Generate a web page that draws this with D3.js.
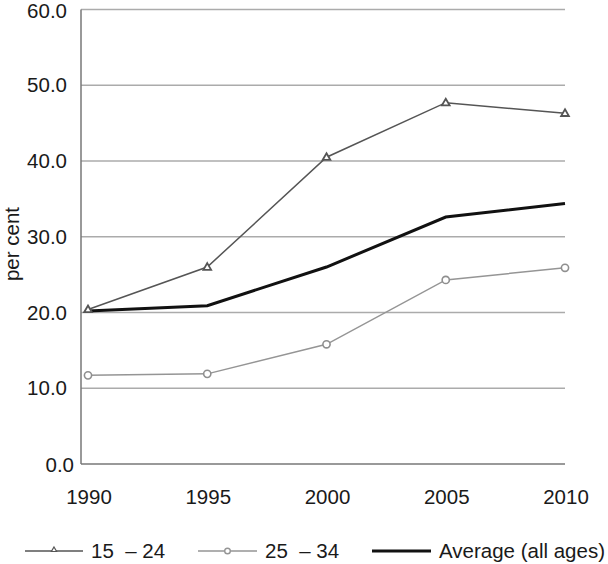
<!DOCTYPE html>
<html>
<head>
<meta charset="utf-8">
<script src="https://cdn.jsdelivr.net/npm/d3@7"></script>
<style>
  body { margin: 0; background: #fff; }
  text { font-family: "Liberation Sans", Arial, sans-serif; fill: #1a1a1a; }
</style>
</head>
<body>
<div id="chart"></div>
<script>
const years = [1990, 1995, 2000, 2005, 2010];
const youth = [20.4, 26.0, 40.5, 47.7, 46.3];
const young = [11.7, 11.9, 15.8, 24.3, 25.9];
const average = [20.2, 20.9, 26.0, 32.6, 34.4];
const yTicks = [0, 10, 20, 30, 40, 50, 60];
const legendLabels = ["15  \u2013 24", "25  \u2013 34", "Average (all ages)"];

const width = 608, height = 564;
const axisLeft = 81;
const fontSize = 20.5;

const x = d3.scaleLinear().domain([1990, 2010]).range([88, 565]);
const y = d3.scaleLinear().domain([0, 60]).range([464, 9.5]);

const svg = d3.select("#chart").append("svg")
  .attr("width", width)
  .attr("height", height);

// gridlines
svg.append("g")
  .selectAll("line")
  .data(yTicks.filter((d) => d > 0))
  .join("line")
  .attr("x1", axisLeft)
  .attr("x2", x(2010))
  .attr("y1", (d) => y(d))
  .attr("y2", (d) => y(d))
  .style("stroke", "#ababab")
  .style("stroke-width", 1.5);

// axes lines
svg.append("line")
  .attr("x1", axisLeft).attr("x2", axisLeft)
  .attr("y1", y(60)).attr("y2", y(0))
  .style("stroke", "#777").style("stroke-width", 1.5);
svg.append("line")
  .attr("x1", axisLeft).attr("x2", x(2010))
  .attr("y1", y(0)).attr("y2", y(0))
  .style("stroke", "#777").style("stroke-width", 1.5);

// y tick labels
svg.append("g")
  .selectAll("text")
  .data(yTicks)
  .join("text")
  .attr("x", (d) => (d === 0 ? 74 : 67))
  .attr("y", (d) => y(d) + (d === 0 ? 1 : d === 60 ? 1 : 0))
  .attr("dy", "0.35em")
  .attr("text-anchor", "end")
  .style("font-size", fontSize + "px")
  .text((d) => d.toFixed(1));

// x tick labels
svg.append("g")
  .selectAll("text")
  .data(years)
  .join("text")
  .attr("x", (d) => x(d) + 1)
  .attr("y", 504)
  .attr("text-anchor", "middle")
  .style("font-size", fontSize + "px")
  .text((d) => d);

// y axis title
svg.append("text")
  .attr("transform", "translate(19,244) rotate(-90)")
  .attr("text-anchor", "middle")
  .style("font-size", fontSize + "px")
  .text("per cent");

const line = d3.line()
  .x((d, i) => x(years[i]))
  .y((d) => y(d));

const triangle = d3.symbol().type(d3.symbolTriangle).size(26);

// 25 - 34
svg.append("path")
  .attr("d", line(young))
  .style("fill", "none")
  .style("stroke", "#959595")
  .style("stroke-width", 1.5);
svg.append("g")
  .selectAll("circle")
  .data(young)
  .join("circle")
  .attr("cx", (d, i) => x(years[i]))
  .attr("cy", (d) => y(d))
  .attr("r", 3.6)
  .style("fill", "#fff")
  .style("stroke", "#8f8f8f")
  .style("stroke-width", 1.6);

// average
svg.append("path")
  .attr("d", line(average))
  .style("fill", "none")
  .style("stroke", "#111")
  .style("stroke-width", 3);

// 15 - 24
svg.append("path")
  .attr("d", line(youth))
  .style("fill", "none")
  .style("stroke", "#555")
  .style("stroke-width", 1.5);
svg.append("g")
  .selectAll("path")
  .data(youth)
  .join("path")
  .attr("d", triangle)
  .attr("transform", (d, i) => `translate(${x(years[i])},${y(d) + 0.5})`)
  .style("fill", "#fff")
  .style("stroke", "#555")
  .style("stroke-width", 1.8);

// legend
const legendY = 551;
const legendItems = [
  { x0: 25, x1: 83, tx: 91, color: "#555", w: 1.5, marker: "triangle" },
  { x0: 198, x1: 257, tx: 265, color: "#959595", w: 1.5, marker: "circle" },
  { x0: 372, x1: 431, tx: 439, color: "#111", w: 3, marker: null },
];
const legend = svg.append("g");
legendItems.forEach((item, i) => {
  legend.append("line")
    .attr("x1", item.x0).attr("x2", item.x1)
    .attr("y1", legendY).attr("y2", legendY)
    .style("stroke", item.color)
    .style("stroke-width", item.w);
  const mx = (item.x0 + item.x1) / 2;
  if (item.marker === "triangle") {
    legend.append("path")
      .attr("d", d3.symbol().type(d3.symbolTriangle).size(12)())
      .attr("transform", `translate(${mx},${legendY - 1})`)
      .style("fill", "#fff")
      .style("stroke", item.color)
      .style("stroke-width", 1.2);
  } else if (item.marker === "circle") {
    legend.append("circle")
      .attr("cx", mx).attr("cy", legendY).attr("r", 2.8)
      .style("fill", "#fff")
      .style("stroke", item.color)
      .style("stroke-width", 1.4);
  }
  legend.append("text")
    .attr("x", item.tx)
    .attr("y", legendY)
    .attr("dy", "0.35em")
    .style("font-size", fontSize + "px")
    .style("white-space", "pre")
    .attr("xml:space", "preserve")
    .text(legendLabels[i]);
});
</script>
</body>
</html>
